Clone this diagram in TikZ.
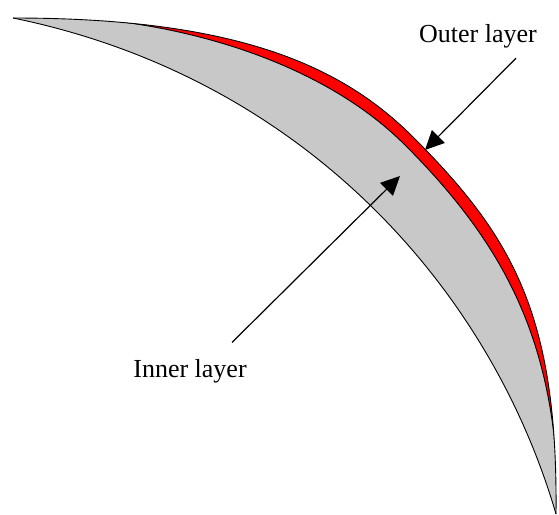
\documentclass[tikz,border=0pt]{standalone}
\usepackage{fontspec}
\setmainfont{Liberation Serif}
\usetikzlibrary{arrows.meta}

\definecolor{layergray}{RGB}{200,200,200}

\begin{document}
\begin{tikzpicture}[x=1pt, y=-1pt, arrow/.style={-{Triangle[length=19pt, width=18pt]}, line width=1.2pt}, layerlabel/.style={anchor=base, font=\fontsize{26}{31}\selectfont}, edge/.style={draw=black, line width=0.9pt}]

\useasboundingbox (0,0) rectangle (559,514);

% gray body between outer and inner curve
\fill[layergray] (13,18) .. controls (238,18) and (342.3,66.3) .. (413,137) .. controls (512,236) and (558,314) .. (556,514)
  .. controls (488,282) and (297.2,76) .. (13,18) -- cycle;
% red outer layer, clipped to the body
\begin{scope}
\clip (13,18) .. controls (238,18) and (342.3,66.3) .. (413,137) .. controls (512,236) and (558,314) .. (556,514)
  .. controls (488,282) and (297.2,76) .. (13,18) -- cycle;
\fill[red] (97,19) .. controls (210,30) and (330,70) .. (405,145) .. controls (500,240) and (548,330) .. (557,468)
  -- (575,470) -- (575,0) -- (97,0) -- cycle;
\draw[edge] (97,19) .. controls (210,30) and (330,70) .. (405,145) .. controls (500,240) and (548,330) .. (557,468);
\end{scope}
% outlines
\draw[edge] (13,18) .. controls (238,18) and (342.3,66.3) .. (413,137) .. controls (512,236) and (558,314) .. (556,514);
\draw[edge] (13,18) .. controls (297.2,76) and (488,282) .. (556,514);

\node[layerlabel] (outer) at (478,42) {Outer layer};
\node[layerlabel] (inner) at (190,377) {Inner layer};
\coordinate (outertip) at (425,150);
\coordinate (innertip) at (400,176);
\draw[arrow] ([xshift=38pt,yshift=-7pt]outer.south) -- (outertip);
\draw[arrow] ([xshift=42pt,yshift=13pt]inner.north) -- (innertip);

\end{tikzpicture}
\end{document}
